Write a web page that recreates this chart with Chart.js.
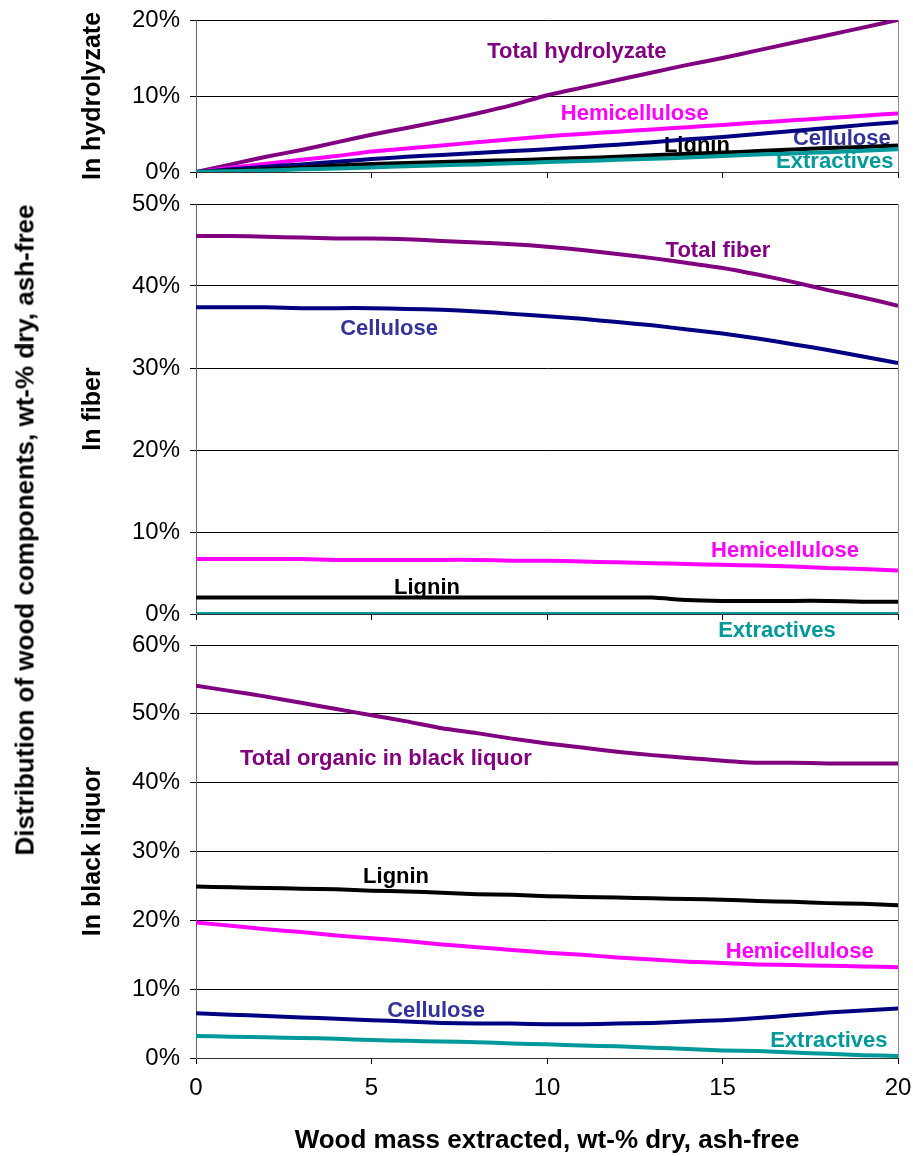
<!DOCTYPE html>
<html>
<head>
<meta charset="utf-8">
<script src="https://cdn.jsdelivr.net/npm/chart.js@4.4.1/dist/chart.umd.min.js"></script>
<style>
  html, body { margin: 0; padding: 0; background: #fff; }
  #wrap { position: relative; width: 913px; height: 1156px; overflow: hidden; }
  #wrap canvas { position: absolute; left: 0; }
  #ytitle {
    position: absolute; left: 25px; top: 530px;
    transform: translate(-50%, -50%) rotate(-90deg);
    white-space: nowrap; color: #000;
    font: bold 26px "Liberation Sans", Arial, sans-serif;
  }
</style>
</head>
<body>
<div id="wrap">
  <canvas id="hydro" width="913" height="200" style="top:0px"></canvas>
  <canvas id="fiber" width="913" height="470" style="top:180px"></canvas>
  <canvas id="liquor" width="913" height="536" style="top:620px"></canvas>
  <div id="ytitle">Distribution of wood components, wt-% dry, ash-free</div>
</div>
<script>
// Wood mass extracted (wt-% dry, ash-free)
const extracted = [0, 1, 2, 3, 4, 5, 6, 7, 8, 9, 10, 11, 12, 13, 14, 15, 16, 17, 18, 19, 20];
const xTicks = [0, 5, 10, 15, 20];

// In hydrolyzate (%)
const hydTotal    = [0, 1.0, 2.0, 2.9, 3.9, 4.9, 5.8, 6.7, 7.7, 8.8, 10.1, 11.1, 12.1, 13.1, 14.1, 15.0, 16.0, 17.0, 18.0, 19.0, 20.0];
const hydHemi     = [0, 0.55, 1.1, 1.6, 2.1, 2.7, 3.1, 3.5, 3.9, 4.3, 4.7, 5.0, 5.3, 5.6, 5.9, 6.2, 6.5, 6.8, 7.1, 7.4, 7.7];
const hydCell     = [0, 0.35, 0.7, 1.0, 1.35, 1.7, 2.0, 2.25, 2.5, 2.75, 3.0, 3.3, 3.6, 3.9, 4.3, 4.6, 5.0, 5.4, 5.8, 6.2, 6.55];
const hydLignin   = [0, 0.2, 0.4, 0.6, 0.85, 1.05, 1.2, 1.3, 1.45, 1.55, 1.7, 1.85, 2.0, 2.2, 2.4, 2.55, 2.75, 2.95, 3.15, 3.3, 3.5];
const hydExtr     = [0, 0.1, 0.2, 0.35, 0.45, 0.6, 0.75, 0.9, 1.0, 1.15, 1.3, 1.45, 1.6, 1.75, 1.9, 2.1, 2.3, 2.45, 2.6, 2.8, 3.0];
const hydTicks    = [0, 10, 20];

// In fiber (%)
const fibTotal    = [46.1, 46.1, 46.0, 45.9, 45.8, 45.8, 45.7, 45.5, 45.3, 45.1, 44.8, 44.4, 43.9, 43.4, 42.8, 42.2, 41.4, 40.5, 39.5, 38.6, 37.6];
const fibCell     = [37.4, 37.4, 37.4, 37.3, 37.3, 37.3, 37.2, 37.1, 36.9, 36.6, 36.3, 36.0, 35.6, 35.2, 34.7, 34.2, 33.6, 32.9, 32.2, 31.4, 30.6];
const fibHemi     = [6.7, 6.7, 6.7, 6.7, 6.6, 6.6, 6.6, 6.6, 6.6, 6.5, 6.5, 6.4, 6.3, 6.2, 6.1, 6.0, 5.9, 5.8, 5.6, 5.5, 5.3];
const fibLignin   = [2.0, 2.0, 2.0, 2.0, 2.0, 2.0, 2.0, 2.0, 2.0, 2.0, 2.0, 2.0, 2.0, 2.0, 1.7, 1.6, 1.6, 1.6, 1.6, 1.5, 1.5];
const fibExtr     = [0, 0, 0, 0, 0, 0, 0, 0, 0, 0, 0, 0, 0, 0, 0, 0, 0, 0, 0, 0, 0];
const fibTicks    = [0, 10, 20, 30, 40, 50];

// In black liquor (%)
const blTotal     = [54.1, 53.3, 52.5, 51.6, 50.7, 49.8, 48.9, 47.9, 47.2, 46.4, 45.7, 45.1, 44.5, 44.0, 43.6, 43.2, 42.9, 42.9, 42.8, 42.8, 42.8];
const blLignin    = [24.9, 24.8, 24.7, 24.6, 24.5, 24.3, 24.2, 24.0, 23.8, 23.7, 23.5, 23.4, 23.3, 23.2, 23.1, 23.0, 22.8, 22.7, 22.5, 22.4, 22.2];
const blHemi      = [19.7, 19.2, 18.7, 18.3, 17.8, 17.4, 17.0, 16.5, 16.1, 15.7, 15.3, 15.0, 14.6, 14.3, 14.0, 13.8, 13.6, 13.5, 13.4, 13.3, 13.2];
const blCell      = [6.5, 6.3, 6.1, 5.9, 5.7, 5.5, 5.3, 5.1, 5.0, 5.0, 4.9, 4.9, 5.0, 5.1, 5.3, 5.5, 5.8, 6.2, 6.6, 6.9, 7.2];
const blExtr      = [3.2, 3.1, 3.0, 2.9, 2.8, 2.6, 2.5, 2.4, 2.3, 2.1, 2.0, 1.8, 1.7, 1.5, 1.3, 1.1, 1.0, 0.8, 0.6, 0.4, 0.3];
const blTicks     = [0, 10, 20, 30, 40, 50, 60];

const FONT = '"Liberation Sans", Arial, sans-serif';
const C = {
  total: '#800080', hemi: '#ff00ff', cell: '#000080', cellText: '#333399',
  lignin: '#000000', extr: '#009999'
};

Chart.defaults.font.family = FONT;
Chart.defaults.color = '#000';

// Writes each series name next to its curve, anchored in data units
const seriesLabels = {
  id: 'seriesLabels',
  beforeDatasetsDraw(chart, args, opts) {
    const { ctx, scales: { x, y } } = chart;
    ctx.save();
    ctx.font = 'bold 22px ' + FONT;
    ctx.textAlign = 'center';
    ctx.textBaseline = 'middle';
    (opts.items || []).forEach(l => {
      ctx.fillStyle = l.color;
      ctx.fillText(l.text, x.getPixelForValue(l.x), y.getPixelForValue(l.y));
    });
    ctx.restore();
  }
};

function series(values, color) {
  return {
    data: extracted.map((v, i) => ({ x: v, y: values[i] })),
    borderColor: color,
    borderWidth: 4,
    pointRadius: 0,
    tension: 0.2,
    borderJoinStyle: 'round',
    fill: false
  };
}

// Tick labels may overhang the plot edges; the panel paddings already leave room
function noOverhang(s) {
  s.paddingLeft = 0; s.paddingRight = 0; s.paddingTop = 0; s.paddingBottom = 0;
}

function panel(id, cfg) {
  return new Chart(document.getElementById(id), {
    type: 'line',
    data: { datasets: cfg.datasets },
    plugins: [seriesLabels],
    options: {
      responsive: false,
      animation: false,
      events: [],
      layout: { padding: cfg.padding, autoPadding: false },
      plugins: {
        legend: { display: false },
        tooltip: { enabled: false },
        seriesLabels: { items: cfg.labels }
      },
      scales: {
        x: {
          type: 'linear',
          min: xTicks[0],
          max: xTicks[xTicks.length - 1],
          ticks: {
            stepSize: xTicks[1] - xTicks[0],
            display: cfg.showX,
            padding: 10,
            color: '#000',
            font: { size: 24 }
          },
          grid: {
            color: c => (c.tick && c.tick.value === xTicks[xTicks.length - 1]) ? '#8c8c8c' : 'rgba(0,0,0,0)',
            tickColor: '#000',
            tickLength: 6,
            lineWidth: 1
          },
          border: { display: true, color: '#333', width: 1 },
          title: {
            display: cfg.showX,
            text: 'Wood mass extracted, wt-% dry, ash-free',
            color: '#000',
            font: { size: 26, weight: 'bold' },
            padding: { top: 0, bottom: 0 }
          },
          afterFit: s => { s.height = cfg.xHeight; noOverhang(s); }
        },
        y: {
          min: cfg.yTicks[0],
          max: cfg.yTicks[cfg.yTicks.length - 1],
          ticks: {
            stepSize: cfg.yTicks[1] - cfg.yTicks[0],
            padding: 10,
            color: '#000',
            font: { size: 24 },
            callback: v => v + '%'
          },
          grid: { color: '#000', tickColor: '#000', tickLength: 6, lineWidth: 1 },
          border: { display: true, color: '#666', width: 1 },
          title: {
            display: true,
            text: cfg.title,
            color: '#000',
            font: { size: 25, weight: 'bold' },
            padding: { top: 4, bottom: 4 }
          },
          afterFit: s => { s.width = 122; noOverhang(s); }
        }
      }
    }
  });
}

panel('hydro', {
  title: 'In hydrolyzate',
  yTicks: hydTicks,
  showX: false,
  xHeight: 10,
  padding: { top: 20, left: 74, right: 15, bottom: 18 },
  datasets: [
    series(hydExtr, C.extr),
    series(hydLignin, C.lignin),
    series(hydCell, C.cell),
    series(hydHemi, C.hemi),
    series(hydTotal, C.total)
  ],
  labels: [
    { text: 'Total hydrolyzate', x: 10.85, y: 15.8, color: C.total },
    { text: 'Hemicellulose', x: 12.5, y: 7.65, color: C.hemi },
    { text: 'Lignin', x: 14.27, y: 3.43, color: C.lignin },
    { text: 'Cellulose', x: 18.4, y: 4.35, color: C.cellText },
    { text: 'Extractives', x: 18.2, y: 1.3, color: C.extr }
  ]
});

panel('fiber', {
  title: 'In fiber',
  yTicks: fibTicks,
  showX: false,
  xHeight: 10,
  padding: { top: 24, left: 74, right: 15, bottom: 26 },
  datasets: [
    series(fibExtr, C.extr),
    series(fibLignin, C.lignin),
    series(fibHemi, C.hemi),
    series(fibCell, C.cell),
    series(fibTotal, C.total)
  ],
  labels: [
    { text: 'Total fiber', x: 14.87, y: 44.3, color: C.total },
    { text: 'Cellulose', x: 5.5, y: 34.8, color: C.cellText },
    { text: 'Hemicellulose', x: 16.78, y: 7.7, color: C.hemi },
    { text: 'Lignin', x: 6.58, y: 3.2, color: C.lignin },
    { text: 'Extractives', x: 16.55, y: -2.1, color: C.extr }
  ]
});

panel('liquor', {
  title: 'In black liquor',
  yTicks: blTicks,
  showX: true,
  xHeight: 98,
  padding: { top: 25, left: 74, right: 15, bottom: 0 },
  datasets: [
    series(blExtr, C.extr),
    series(blCell, C.cell),
    series(blHemi, C.hemi),
    series(blLignin, C.lignin),
    series(blTotal, C.total)
  ],
  labels: [
    { text: 'Total organic in black liquor', x: 5.41, y: 43.5, color: C.total },
    { text: 'Lignin', x: 5.7, y: 26.3, color: C.lignin },
    { text: 'Hemicellulose', x: 17.2, y: 15.4, color: C.hemi },
    { text: 'Cellulose', x: 6.84, y: 6.8, color: C.cellText },
    { text: 'Extractives', x: 18.03, y: 2.5, color: C.extr }
  ]
});
</script>
</body>
</html>
